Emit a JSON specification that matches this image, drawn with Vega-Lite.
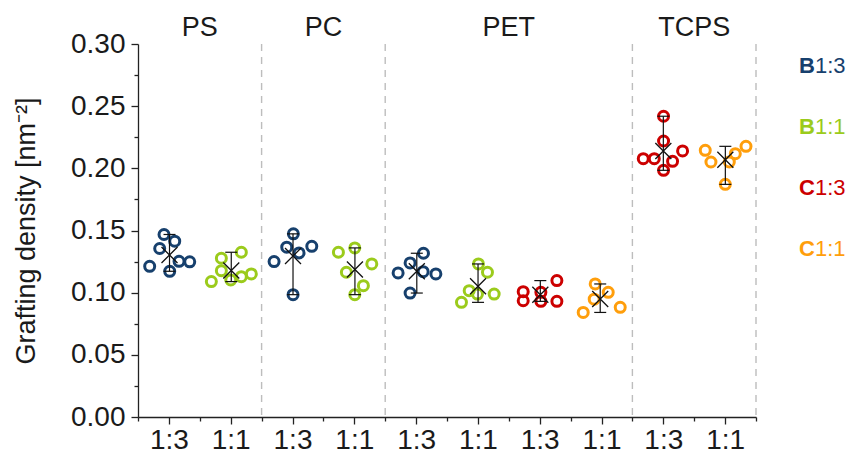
{
  "$schema": "https://vega.github.io/schema/vega-lite/v6.json",
  "background": "white",
  "padding": {"left": 12, "top": 14, "right": 0, "bottom": 0},
  "config": {
    "view": {"stroke": null},
    "font": "Liberation Sans",
    "concat": {"spacing": 38}
  },
  "datasets": {
    "points": [
      {"surface": "PS", "series": "B1:3", "x": 0.189, "y": 0.1212},
      {"surface": "PS", "series": "B1:3", "x": 0.421, "y": 0.1468},
      {"surface": "PS", "series": "B1:3", "x": 0.351, "y": 0.1355},
      {"surface": "PS", "series": "B1:3", "x": 0.594, "y": 0.1414},
      {"surface": "PS", "series": "B1:3", "x": 0.513, "y": 0.1172},
      {"surface": "PS", "series": "B1:3", "x": 0.664, "y": 0.1252},
      {"surface": "PS", "series": "B1:3", "x": 0.837, "y": 0.1248},
      {"surface": "PS", "series": "B1:1", "x": 1.187, "y": 0.1089},
      {"surface": "PS", "series": "B1:1", "x": 1.349, "y": 0.1277},
      {"surface": "PS", "series": "B1:1", "x": 1.672, "y": 0.1325},
      {"surface": "PS", "series": "B1:1", "x": 1.349, "y": 0.1177},
      {"surface": "PS", "series": "B1:1", "x": 1.501, "y": 0.1102},
      {"surface": "PS", "series": "B1:1", "x": 1.672, "y": 0.1129},
      {"surface": "PS", "series": "B1:1", "x": 1.834, "y": 0.1151},
      {"surface": "PC", "series": "B1:3", "x": 2.514, "y": 0.1473},
      {"surface": "PC", "series": "B1:3", "x": 2.407, "y": 0.1366},
      {"surface": "PC", "series": "B1:3", "x": 2.606, "y": 0.1320},
      {"surface": "PC", "series": "B1:3", "x": 2.812, "y": 0.1373},
      {"surface": "PC", "series": "B1:3", "x": 2.202, "y": 0.1250},
      {"surface": "PC", "series": "B1:3", "x": 2.509, "y": 0.0984},
      {"surface": "PC", "series": "B1:1", "x": 3.243, "y": 0.1325},
      {"surface": "PC", "series": "B1:1", "x": 3.508, "y": 0.1360},
      {"surface": "PC", "series": "B1:1", "x": 3.783, "y": 0.1231},
      {"surface": "PC", "series": "B1:1", "x": 3.372, "y": 0.1164},
      {"surface": "PC", "series": "B1:1", "x": 3.647, "y": 0.1056},
      {"surface": "PC", "series": "B1:1", "x": 3.508, "y": 0.0984},
      {"surface": "PET", "series": "B1:3", "x": 4.619, "y": 0.1317},
      {"surface": "PET", "series": "B1:3", "x": 4.403, "y": 0.1239},
      {"surface": "PET", "series": "B1:3", "x": 4.209, "y": 0.1159},
      {"surface": "PET", "series": "B1:3", "x": 4.614, "y": 0.1169},
      {"surface": "PET", "series": "B1:3", "x": 4.820, "y": 0.1151},
      {"surface": "PET", "series": "B1:3", "x": 4.403, "y": 0.0997},
      {"surface": "PET", "series": "B1:1", "x": 5.509, "y": 0.1231},
      {"surface": "PET", "series": "B1:1", "x": 5.655, "y": 0.1164},
      {"surface": "PET", "series": "B1:1", "x": 5.359, "y": 0.1016},
      {"surface": "PET", "series": "B1:1", "x": 5.493, "y": 0.0989},
      {"surface": "PET", "series": "B1:1", "x": 5.763, "y": 0.0989},
      {"surface": "PET", "series": "B1:1", "x": 5.234, "y": 0.0922},
      {"surface": "PET", "series": "C1:3", "x": 6.233, "y": 0.1008},
      {"surface": "PET", "series": "C1:3", "x": 6.233, "y": 0.0935},
      {"surface": "PET", "series": "C1:3", "x": 6.519, "y": 0.1003},
      {"surface": "PET", "series": "C1:3", "x": 6.519, "y": 0.0930},
      {"surface": "PET", "series": "C1:3", "x": 6.778, "y": 0.1097},
      {"surface": "PET", "series": "C1:3", "x": 6.778, "y": 0.0930},
      {"surface": "PET", "series": "C1:1", "x": 7.398, "y": 0.1070},
      {"surface": "PET", "series": "C1:1", "x": 7.609, "y": 0.1003},
      {"surface": "PET", "series": "C1:1", "x": 7.382, "y": 0.0948},
      {"surface": "PET", "series": "C1:1", "x": 7.204, "y": 0.0841},
      {"surface": "PET", "series": "C1:1", "x": 7.803, "y": 0.0882},
      {"surface": "TCPS", "series": "C1:3", "x": 8.504, "y": 0.2419},
      {"surface": "TCPS", "series": "C1:3", "x": 8.504, "y": 0.2220},
      {"surface": "TCPS", "series": "C1:3", "x": 8.176, "y": 0.2078},
      {"surface": "TCPS", "series": "C1:3", "x": 8.354, "y": 0.2078},
      {"surface": "TCPS", "series": "C1:3", "x": 8.650, "y": 0.2056},
      {"surface": "TCPS", "series": "C1:3", "x": 8.812, "y": 0.2140},
      {"surface": "TCPS", "series": "C1:3", "x": 8.504, "y": 0.1984},
      {"surface": "TCPS", "series": "C1:1", "x": 9.179, "y": 0.2145},
      {"surface": "TCPS", "series": "C1:1", "x": 9.271, "y": 0.2051},
      {"surface": "TCPS", "series": "C1:1", "x": 9.665, "y": 0.2118},
      {"surface": "TCPS", "series": "C1:1", "x": 9.838, "y": 0.2177},
      {"surface": "TCPS", "series": "C1:1", "x": 9.568, "y": 0.2051},
      {"surface": "TCPS", "series": "C1:1", "x": 9.503, "y": 0.1871}
    ],
    "surfaces": [
      {"surface": "PS", "center": 1, "end": 2},
      {"surface": "PC", "center": 3, "end": 4},
      {"surface": "PET", "center": 6, "end": 8},
      {"surface": "TCPS", "center": 9, "end": 10}
    ],
    "key": [
      {"series": "B1:3", "brush": "B", "ratio": "1:3"},
      {"series": "B1:1", "brush": "B", "ratio": "1:1"},
      {"series": "C1:3", "brush": "C", "ratio": "1:3"},
      {"series": "C1:1", "brush": "C", "ratio": "1:1"}
    ]
  },
  "hconcat": [
    {
      "width": 618,
      "height": 373,
      "encoding": {
        "x": {
          "type": "quantitative",
          "scale": {"domain": [0, 10], "nice": false, "zero": false},
          "axis": {
            "title": null,
            "values": [0, 0.5, 1, 1.5, 2, 2.5, 3, 3.5, 4, 4.5, 5, 5.5, 6, 6.5, 7, 7.5, 8, 8.5, 9, 9.5, 10],
            "labelExpr": "indexof([0.5, 2.5, 4.5, 6.5, 8.5], datum.value) >= 0 ? '1:3' : (indexof([1.5, 3.5, 5.5, 7.5, 9.5], datum.value) >= 0 ? '1:1' : '')",
            "labelFontSize": 28,
            "labelColor": "#1a1a1a",
            "labelPadding": 2,
            "labelOverlap": false,
            "labelFlush": false,
            "labelBound": false,
            "grid": false,
            "domainColor": "#222222",
            "domainWidth": 1.3,
            "tickColor": "#222222",
            "tickWidth": 1.3,
            "tickSize": {"condition": {"test": "datum.value != floor(datum.value)", "value": 7}, "value": 4}
          }
        },
        "y": {
          "type": "quantitative",
          "scale": {"domain": [0, 0.3], "nice": false, "zero": false},
          "axis": {
            "title": "Grafting density [nm⁻²]",
            "titleFontSize": 27,
            "titleFontWeight": "normal",
            "titleColor": "#1a1a1a",
            "titlePadding": 30,
            "values": [0, 0.025, 0.05, 0.075, 0.1, 0.125, 0.15, 0.175, 0.2, 0.225, 0.25, 0.275, 0.3],
            "labelExpr": "round(datum.value * 1000) % 50 == 0 ? format(datum.value, '.2f') : ''",
            "labelFontSize": 28,
            "labelColor": "#1a1a1a",
            "labelPadding": 6,
            "labelOverlap": false,
            "labelFlush": false,
            "labelBound": false,
            "grid": false,
            "domainColor": "#222222",
            "domainWidth": 1.3,
            "tickColor": "#222222",
            "tickWidth": 1.3,
            "tickSize": {"condition": {"test": "round(datum.value * 1000) % 50 == 0", "value": 7}, "value": 4}
          }
        }
      },
      "layer": [
        {
          "data": {"name": "surfaces"},
          "mark": {"type": "rule", "color": "#bdbdbd", "strokeWidth": 1.4, "strokeDash": [7, 6]},
          "encoding": {
            "x": {"field": "end", "type": "quantitative"}
          }
        },
        {
          "data": {"name": "points"},
          "mark": {"type": "point", "shape": "circle", "filled": false, "size": 100, "strokeWidth": 3, "opacity": 1},
          "encoding": {
            "x": {"field": "x", "type": "quantitative"},
            "y": {"field": "y", "type": "quantitative"},
            "color": {
              "field": "series", "type": "nominal",
              "scale": {"domain": ["B1:3", "B1:1", "C1:3", "C1:1"], "range": ["#17406D", "#9BCB1C", "#CC0000", "#FF9E0B"]},
              "legend": null
            }
          }
        },
        {
          "data": {"name": "points"},
          "mark": {"type": "rule", "color": "#111111", "strokeWidth": 1.2},
          "encoding": {
            "x": {"aggregate": "mean", "field": "x", "type": "quantitative"},
            "y": {"aggregate": "min", "field": "y", "type": "quantitative"},
            "y2": {"aggregate": "max", "field": "y"},
            "detail": [{"field": "surface"}, {"field": "series"}]
          }
        },
        {
          "data": {"name": "points"},
          "mark": {"type": "tick", "orient": "horizontal", "color": "#111111", "size": 12, "thickness": 1.2},
          "encoding": {
            "x": {"aggregate": "mean", "field": "x", "type": "quantitative"},
            "y": {"aggregate": "min", "field": "y", "type": "quantitative"},
            "detail": [{"field": "surface"}, {"field": "series"}]
          }
        },
        {
          "data": {"name": "points"},
          "mark": {"type": "tick", "orient": "horizontal", "color": "#111111", "size": 12, "thickness": 1.2},
          "encoding": {
            "x": {"aggregate": "mean", "field": "x", "type": "quantitative"},
            "y": {"aggregate": "max", "field": "y", "type": "quantitative"},
            "detail": [{"field": "surface"}, {"field": "series"}]
          }
        },
        {
          "data": {"name": "points"},
          "mark": {"type": "point", "shape": "M-1,-1L1,1M-1,1L1,-1", "filled": false, "size": 256, "stroke": "#111111", "strokeWidth": 1.3, "opacity": 1},
          "encoding": {
            "x": {"aggregate": "mean", "field": "x", "type": "quantitative"},
            "y": {"aggregate": "mean", "field": "y", "type": "quantitative"},
            "detail": [{"field": "surface"}, {"field": "series"}]
          }
        },
        {
          "data": {"name": "surfaces"},
          "mark": {"type": "text", "fontSize": 27, "color": "#1a1a1a", "baseline": "middle", "dy": -16, "clip": false},
          "encoding": {
            "x": {"field": "center", "type": "quantitative"},
            "y": {"datum": 0.3, "type": "quantitative"},
            "text": {"field": "surface"}
          }
        }
      ]
    },
    {
      "width": 40,
      "height": 227,
      "data": {"name": "key"},
      "encoding": {
        "y": {"field": "series", "type": "nominal", "sort": null, "scale": {"type": "point", "padding": 0.36}, "axis": null},
        "color": {"field": "series", "type": "nominal", "legend": null}
      },
      "layer": [
        {
          "mark": {"type": "text", "fontSize": 22, "fontWeight": "bold", "align": "right", "baseline": "middle"},
          "encoding": {"text": {"field": "brush"}}
        },
        {
          "mark": {"type": "text", "fontSize": 22, "align": "left", "baseline": "middle"},
          "encoding": {"text": {"field": "ratio"}}
        }
      ]
    }
  ]
}
